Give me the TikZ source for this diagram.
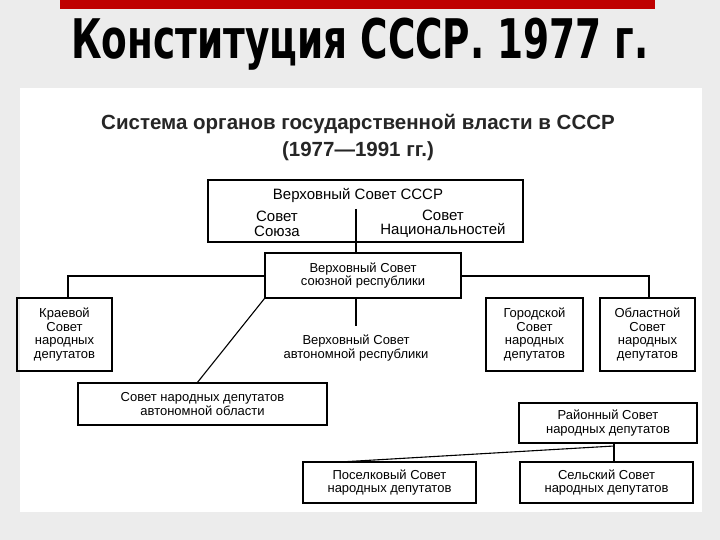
\documentclass[tikz,border=0pt]{standalone}
\usepackage{fontspec}
\setmainfont{Liberation Sans}
\newfontfamily\titlefont{DejaVu Sans Condensed}
\begin{document}
\begin{tikzpicture}[x=1pt,y=-1pt,
  bx/.style={draw,line width=1.1pt,inner sep=0pt},
  lbl/.style={align=center,font=\fontsize{13}{13.5}\selectfont,inner sep=0pt},
  ln/.style={line width=1.1pt}]
\useasboundingbox (0,0) rectangle (720,540);
\fill[gray!15] (0,0) rectangle (720,540);
\fill[white] (20,88) rectangle (702,512);
\fill[red!75!black] (60,0) rectangle (655,9);
\node[font=\titlefont\bfseries\fontsize{52}{52}\selectfont,xscale=0.8,yscale=1.05] (title) at (360,44) {Конституция СССР. 1977 г.};
\node[font=\bfseries\fontsize{20.5}{27}\selectfont,align=center,text=black!85] (sub) at (358,138) {Система органов государственной власти в СССР\\(1977—1991 гг.)};
% boxes
\draw[bx] (208,180) rectangle (523,242);
\node[lbl,font=\fontsize{15}{15}\selectfont] (vs) at (358,195) {Верховный Совет СССР};
\node[lbl,font=\fontsize{15}{14.5}\selectfont] (ss) at (277,224) {Совет\\Союза};
\node[lbl,font=\fontsize{15}{14.5}\selectfont] (sn) at (443,224) {Совет\\Национальностей};
\coordinate (vtop) at (356,209);
\node[bx,minimum width=196pt,minimum height=45pt] (rep) at (363,275.5) {};
\node[lbl] at (rep) {Верховный Совет\\союзной республики};
\draw[ln] (vtop) -- (356,253);
\node[bx,minimum width=95pt,minimum height=73pt] (kr) at (64.5,334.5) {};
\node[lbl] at (kr) {Краевой\\Совет\\народных\\депутатов};
\node[bx,minimum width=97pt,minimum height=73pt] (gor) at (534.5,334.5) {};
\node[lbl] at (gor) {Городской\\Совет\\народных\\депутатов};
\node[bx,minimum width=95pt,minimum height=73pt] (obl) at (647.5,334.5) {};
\node[lbl] at (obl) {Областной\\Совет\\народных\\депутатов};
\node[lbl] (avr) at (356,348) {Верховный Совет\\автономной республики};
\node[bx,minimum width=249pt,minimum height=42pt] (ao) at (202.5,404) {};
\node[lbl] at (ao) {Совет народных депутатов\\автономной области};
\node[bx,minimum width=178pt,minimum height=40pt] (rai) at (608,423) {};
\node[lbl] at (rai) {Районный Совет\\народных депутатов};
\node[bx,minimum width=173pt,minimum height=41pt] (pos) at (389.5,482.5) {};
\node[lbl] at (pos) {Поселковый Совет\\народных депутатов};
\node[bx,minimum width=173pt,minimum height=41pt] (sel) at (606.5,482.5) {};
\node[lbl] at (sel) {Сельский Совет\\народных депутатов};
% connectors
\coordinate (hl) at (68,276);
\coordinate (hr) at (649,276);
\draw[ln] (rep.west |- hl) -- (hl) -- (kr.north -| hl);
\draw[ln] (rep.east |- hr) -- (hr) -- (obl.north -| hr);
\draw[ln] (rep.south -| 356,0) -- (356,326);
\draw[ln] (rep.south west) -- (197,383);
\coordinate (rb) at (614,446);
\draw[ln] (rai.south -| rb) -- (sel.north -| rb);
\draw[ln] (rb) -- (340,462);
\end{tikzpicture}
\end{document}
